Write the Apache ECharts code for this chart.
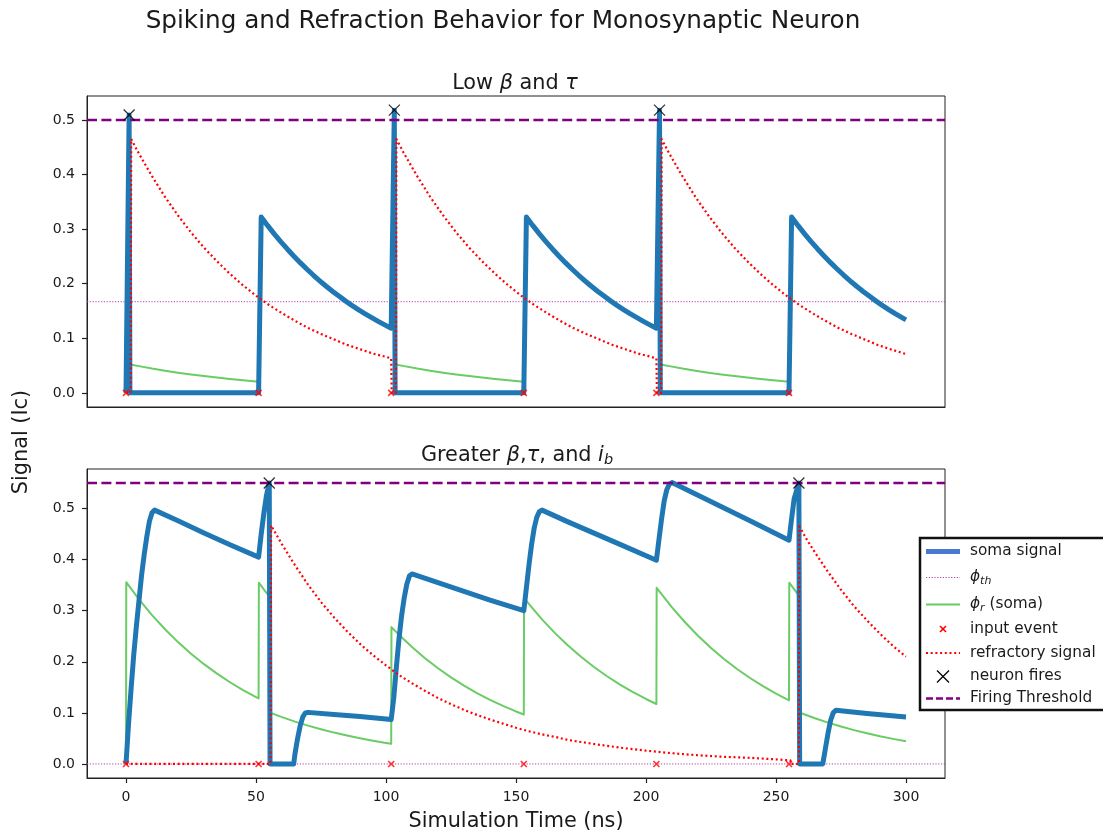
<!DOCTYPE html>
<html>
<head>
<meta charset="utf-8">
<script src="https://cdn.jsdelivr.net/npm/echarts@6/dist/echarts.min.js"></script>
<style>
  html, body { margin: 0; padding: 0; background: #ffffff; }
  #chart { width: 1103px; height: 836px; }
</style>
</head>
<body>
<div id="chart"></div>
<script>
// ---- Shared axis ticks ----
const timeTicks = [0, 50, 100, 150, 200, 250, 300];
const signalTicks = [0, 0.1, 0.2, 0.3, 0.4, 0.5];

// ---- Input events (ns) ----
const inputTimes = [0, 51, 102, 153, 204, 255];

// ---- Panel 1: low beta and tau ----
const lowSoma = [
  [0, 0], [1.2, 0.509], [1.5, 0], [51, 0],
  [52, 0.322], [54.5, 0.3063], [57, 0.2914], [59.5, 0.2772], [62, 0.2637], [64.5, 0.2508], [67, 0.2386],
  [69.5, 0.2270], [72, 0.2159], [74.5, 0.2054], [77, 0.1953], [79.5, 0.1858], [82, 0.1768], [84.5, 0.1681],
  [87, 0.1599], [89.5, 0.1521], [92, 0.1447], [94.5, 0.1377], [97, 0.1310], [99.5, 0.1246], [102, 0.1185],
  [103.2, 0.518], [103.5, 0], [153, 0],
  [154, 0.322], [156.5, 0.3063], [159, 0.2914], [161.5, 0.2772], [164, 0.2637], [166.5, 0.2508], [169, 0.2386],
  [171.5, 0.2270], [174, 0.2159], [176.5, 0.2054], [179, 0.1953], [181.5, 0.1858], [184, 0.1768], [186.5, 0.1681],
  [189, 0.1599], [191.5, 0.1521], [194, 0.1447], [196.5, 0.1377], [199, 0.1310], [201.5, 0.1246], [204, 0.1185],
  [205.2, 0.518], [205.5, 0], [255, 0],
  [256, 0.322], [258.5, 0.3063], [261, 0.2914], [263.5, 0.2772], [266, 0.2637], [268.5, 0.2508], [271, 0.2386],
  [273.5, 0.2270], [276, 0.2159], [278.5, 0.2054], [281, 0.1953], [283.5, 0.1858], [286, 0.1768], [288.5, 0.1681],
  [291, 0.1599], [293.5, 0.1521], [296, 0.1447], [298.5, 0.1377], [300, 0.1336]
];
const lowPhiR1 = [[1.5, 0], [1.6, 0.052], [5, 0.049], [10, 0.0445], [15, 0.0406], [20, 0.0370], [25, 0.0337],
  [30, 0.0307], [35, 0.0280], [40, 0.0255], [45, 0.0232], [51, 0.0205], [51.1, 0]];
const lowPhiR2 = [[103.5, 0], [103.6, 0.052], [107, 0.049], [112, 0.0445], [117, 0.0406], [122, 0.0370], [127, 0.0337],
  [132, 0.0307], [137, 0.0280], [142, 0.0255], [147, 0.0232], [153, 0.0205], [153.1, 0]];
const lowPhiR3 = [[205.5, 0], [205.6, 0.052], [209, 0.049], [214, 0.0445], [219, 0.0406], [224, 0.0370], [229, 0.0337],
  [234, 0.0307], [239, 0.0280], [244, 0.0255], [249, 0.0232], [255, 0.0205], [255.1, 0]];
const lowRefractory = [
  [0, 0], [1.8, 0], [2, 0.465], [5, 0.438], [10, 0.397], [15, 0.359], [20, 0.325], [25, 0.294], [30, 0.266],
  [35, 0.241], [40, 0.218], [45, 0.197], [50, 0.178], [55, 0.161], [60, 0.146], [65, 0.132], [70, 0.119],
  [75, 0.108], [80, 0.098], [85, 0.088], [90, 0.080], [95, 0.072], [100, 0.066], [102, 0.063],
  [102.2, 0], [103.8, 0], [104, 0.465], [107, 0.438], [112, 0.397], [117, 0.359], [122, 0.325], [127, 0.294],
  [132, 0.266], [137, 0.241], [142, 0.218], [147, 0.197], [152, 0.178], [157, 0.161], [162, 0.146], [167, 0.132],
  [172, 0.119], [177, 0.108], [182, 0.098], [187, 0.088], [192, 0.080], [197, 0.072], [202, 0.066], [204, 0.063],
  [204.2, 0], [205.8, 0], [206, 0.465], [209, 0.438], [214, 0.397], [219, 0.359], [224, 0.325], [229, 0.294],
  [234, 0.266], [239, 0.241], [244, 0.218], [249, 0.197], [254, 0.178], [259, 0.161], [264, 0.146], [269, 0.132],
  [274, 0.119], [279, 0.108], [284, 0.098], [289, 0.088], [294, 0.080], [300, 0.071]
];
const lowFires = [[1.2, 0.509], [103.2, 0.518], [205.2, 0.518]];
const lowPhiTh = 0.167;
const lowThreshold = 0.5;

// ---- Panel 2: greater beta, tau and i_b ----
const highSoma = [
  [0, 0], [1, 0.08], [2, 0.15], [3, 0.215], [4, 0.27], [5, 0.32], [6, 0.37], [7, 0.41], [8, 0.445],
  [9, 0.475], [10, 0.492], [11, 0.497], [20, 0.476], [30, 0.452], [40, 0.429], [51, 0.405],
  [52, 0.45], [53, 0.49], [54, 0.525], [55.1, 0.55], [55.4, 0], [64.5, 0], [65, 0.02], [66, 0.05],
  [67, 0.075], [68, 0.092], [69, 0.1], [70, 0.101], [80, 0.097], [90, 0.093], [102, 0.087],
  [103, 0.13], [104, 0.19], [105, 0.245], [106, 0.29], [107, 0.325], [108, 0.352], [109, 0.368], [110, 0.372],
  [120, 0.355], [130, 0.338], [140, 0.321], [153, 0.30],
  [154, 0.345], [155, 0.39], [156, 0.43], [157, 0.462], [158, 0.483], [159, 0.494], [160, 0.497],
  [170, 0.474], [180, 0.452], [190, 0.43], [204, 0.399],
  [205, 0.44], [206, 0.48], [207, 0.515], [208, 0.537], [209, 0.548], [210, 0.551],
  [220, 0.526], [230, 0.501], [240, 0.476], [255, 0.438],
  [256, 0.48], [257, 0.52], [258.8, 0.55], [259.1, 0], [268, 0], [269, 0.03], [270, 0.06], [271, 0.085],
  [272, 0.1], [273, 0.105], [285, 0.099], [300, 0.092]
];
const highPhiR = [
  [0, 0], [0.1, 0.356], [5, 0.3221], [10, 0.2915], [15, 0.2637], [20, 0.2386], [25, 0.2159], [30, 0.1954],
  [35, 0.1768], [40, 0.1600], [45, 0.1447], [50, 0.1310], [51, 0.1284],
  [51.1, 0.355], [53, 0.3418], [55, 0.3286], [55.5, 0.3255],
  [55.6, 0.1], [60, 0.0916], [65, 0.0829], [70, 0.0750], [75, 0.0679], [80, 0.0614], [85, 0.0556],
  [90, 0.0503], [95, 0.0455], [100, 0.0412], [102, 0.0396],
  [102.1, 0.268], [105, 0.2529], [110, 0.2288], [115, 0.2070], [120, 0.1873], [125, 0.1695], [130, 0.1533],
  [135, 0.1387], [140, 0.1255], [145, 0.1136], [150, 0.1028], [153, 0.0968],
  [153.1, 0.325], [155, 0.3129], [160, 0.2832], [165, 0.2562], [170, 0.2318], [175, 0.2098], [180, 0.1898],
  [185, 0.1717], [190, 0.1554], [195, 0.1406], [200, 0.1272], [204, 0.1174],
  [204.1, 0.345], [205, 0.3389], [210, 0.3066], [215, 0.2775], [220, 0.2510], [225, 0.2271], [230, 0.2055],
  [235, 0.1860], [240, 0.1683], [245, 0.1523], [250, 0.1378], [255, 0.1247],
  [255.1, 0.355], [258.6, 0.331],
  [258.9, 0.101], [260, 0.0988], [265, 0.0894], [270, 0.0809], [275, 0.0732], [280, 0.0663], [285, 0.0600],
  [290, 0.0542], [295, 0.0491], [300, 0.0444]
];
const highRefractory = [
  [0, 0], [55.6, 0], [55.8, 0.467], [60, 0.430], [65, 0.389], [70, 0.351], [75, 0.317], [80, 0.287],
  [85, 0.260], [90, 0.235], [95, 0.213], [100, 0.193], [105, 0.174], [110, 0.158], [115, 0.143],
  [120, 0.129], [125, 0.117], [130, 0.106], [135, 0.096], [140, 0.087], [145, 0.079], [150, 0.071],
  [155, 0.064], [160, 0.058], [165, 0.053], [170, 0.047], [175, 0.043], [180, 0.039], [190, 0.032],
  [200, 0.026], [210, 0.021], [220, 0.017], [230, 0.014], [240, 0.012], [250, 0.009], [255.5, 0.007],
  [255.7, 0], [258.8, 0], [259, 0.465], [262, 0.438], [265, 0.414], [270, 0.376], [275, 0.341],
  [280, 0.309], [285, 0.281], [290, 0.255], [295, 0.231], [300, 0.21]
];
const highFires = [[55.1, 0.55], [258.8, 0.55]];
const highPhiTh = 0;
const highThreshold = 0.55;

// ---- Styling ----
const FONT = 'DejaVu Sans';
const TEXT = '#1a1a1a';
const SPINE = '#222222';
const SOMA = '#1f77b4';
const SOMA_LEGEND = '#4878d0';
const GREEN = '#6acc64';
const RED = '#ff0000';
const PURPLE = '#800080';
const PHI_TH = '#b040b0';
const X_PATH = 'path://M0,0L10,10M10,0L0,10';
const X_MIN = -15, X_MAX = 315;

function xAxisFor(gridIndex, showLabels) {
  return {
    type: 'value', gridIndex, min: X_MIN, max: X_MAX,
    axisLine: { show: true, onZero: false, lineStyle: { color: SPINE, width: 1 } },
    splitLine: { show: false },
    axisTick: { show: showLabels, inside: false, length: 5, lineStyle: { color: SPINE, width: 1.2 }, customValues: timeTicks },
    axisLabel: {
      show: showLabels, customValues: timeTicks, margin: 12,
      fontFamily: FONT, fontSize: 14, color: TEXT, formatter: v => String(Math.round(v))
    }
  };
}
function yAxisFor(gridIndex, min, max) {
  return {
    type: 'value', gridIndex, min, max,
    axisLine: { show: true, onZero: false, lineStyle: { color: SPINE, width: 1 } },
    splitLine: { show: false },
    axisTick: { show: true, inside: false, length: 5, lineStyle: { color: SPINE, width: 1.2 }, customValues: signalTicks },
    axisLabel: {
      customValues: signalTicks, margin: 12,
      fontFamily: FONT, fontSize: 14, color: TEXT, formatter: v => v.toFixed(1)
    }
  };
}

function lineSeries(name, data, axis, style, z) {
  return {
    name, type: 'line', data, xAxisIndex: axis, yAxisIndex: axis,
    showSymbol: false, symbol: 'none', z, silent: true, animation: false,
    lineStyle: Object.assign({ join: 'round' }, style)
  };
}
function hline(name, value, axis, style, z) {
  return lineSeries(name, [[X_MIN, value], [X_MAX, value]], axis, style, z);
}
function markerSeries(name, data, axis, size, color, width, z) {
  return {
    name, type: 'scatter', data, xAxisIndex: axis, yAxisIndex: axis,
    symbol: X_PATH, symbolSize: size, z, silent: true, animation: false,
    itemStyle: { color: 'transparent', borderColor: color, borderWidth: width }
  };
}

const somaStyle = { color: SOMA, width: 5 };
const phiThStyle = { color: PHI_TH, width: 1, type: [1.2, 1.6] };
const greenStyle = { color: GREEN, width: 2 };
const refrStyle = { color: RED, width: 2.2, type: [2, 2.7] };
const threshStyle = { color: PURPLE, width: 2.5, type: [10, 4.4] };

const series = [];
[
  { axis: 0, soma: lowSoma, phiR: [lowPhiR1, lowPhiR2, lowPhiR3], refr: lowRefractory, fires: lowFires, th: lowPhiTh, thr: lowThreshold },
  { axis: 1, soma: highSoma, phiR: [highPhiR], refr: highRefractory, fires: highFires, th: highPhiTh, thr: highThreshold }
].forEach(p => {
  series.push(lineSeries('soma signal', p.soma, p.axis, somaStyle, 3));
  series.push(hline('ϕth', p.th, p.axis, phiThStyle, 2));
  p.phiR.forEach(seg => series.push(lineSeries('ϕr (soma)', seg, p.axis, greenStyle, 2)));
  series.push(markerSeries('input event', inputTimes.map(t => [t, 0]), p.axis, 6, RED, 1.6, 6));
  series.push(lineSeries('refractory signal', p.refr, p.axis, refrStyle, 4));
  series.push(markerSeries('neuron fires', p.fires, p.axis, 11, '#000000', 1.3, 7));
  series.push(hline('Firing Threshold', p.thr, p.axis, threshStyle, 5));
});

// ---- Legend (drawn as graphic elements) ----
const legendX = 920, legendY = 538;
const handleX1 = 926, handleX2 = 960, textX = 970;
const legendRows = [551.5, 577.5, 604.5, 629, 653, 676.5, 698.5];
const LEGEND_FS = 15.3;
const legendText = {
  fontFamily: FONT, fontSize: LEGEND_FS, fill: TEXT, verticalAlign: 'middle', align: 'left'
};
const legendRich = {
  m: { fontFamily: FONT, fontSize: LEGEND_FS, fontStyle: 'italic', fill: TEXT },
  s: { fontFamily: FONT, fontSize: 11, fontStyle: 'italic', fill: TEXT, padding: [7, 0, 0, 0] },
  t: { fontFamily: FONT, fontSize: LEGEND_FS, fill: TEXT }
};
function hLine(y, stroke, lineWidth, dash) {
  return { type: 'line', shape: { x1: handleX1, y1: y, x2: handleX2, y2: y },
    style: { stroke, lineWidth, lineDash: dash || null }, z: 101 };
}
function crossMark(cx, cy, half, stroke, lineWidth) {
  return [
    { type: 'line', shape: { x1: cx - half, y1: cy - half, x2: cx + half, y2: cy + half }, style: { stroke, lineWidth }, z: 101 },
    { type: 'line', shape: { x1: cx - half, y1: cy + half, x2: cx + half, y2: cy - half }, style: { stroke, lineWidth }, z: 101 }
  ];
}
function legendLabel(y, text, rich) {
  return { type: 'text', x: textX, y, z: 101,
    style: Object.assign({ text, rich: rich || undefined }, legendText) };
}
const cx = (handleX1 + handleX2) / 2;
const legendElements = [
  { type: 'rect', shape: { x: legendX, y: legendY, width: 200, height: 172 },
    style: { fill: '#ffffff', stroke: '#111111', lineWidth: 2.5 }, z: 100 },
  hLine(legendRows[0], SOMA_LEGEND, 5),
  legendLabel(legendRows[0], 'soma signal'),
  hLine(legendRows[1], PHI_TH, 1, [1.2, 1.6]),
  legendLabel(legendRows[1], '{m|ϕ}{s|th}', legendRich),
  hLine(legendRows[2], GREEN, 2),
  legendLabel(legendRows[2], '{m|ϕ}{s|r}{t| (soma)}', legendRich),
  ...crossMark(cx, legendRows[3], 3, RED, 1.6),
  legendLabel(legendRows[3], 'input event'),
  hLine(legendRows[4], RED, 2.2, [2, 2.7]),
  legendLabel(legendRows[4], 'refractory signal'),
  ...crossMark(cx, legendRows[5], 6, '#000000', 1.3),
  legendLabel(legendRows[5], 'neuron fires'),
  hLine(legendRows[6], PURPLE, 2.5, [7, 3]),
  legendLabel(legendRows[6], 'Firing Threshold')
];

const SUB_FS = 20.8;
const titleRich = {
  m: { fontFamily: FONT, fontSize: SUB_FS, fontStyle: 'italic', color: TEXT },
  s: { fontFamily: FONT, fontSize: 14.5, fontStyle: 'italic', color: TEXT, padding: [10, 0, 0, 0] }
};

const option = {
  backgroundColor: '#ffffff',
  animation: false,
  title: [
    { text: 'Spiking and Refraction Behavior for Monosynaptic Neuron', left: 498, top: 4, textAlign: 'center',
      textStyle: { fontFamily: FONT, fontSize: 24.7, fontWeight: 'normal', color: TEXT } },
    { text: 'Low {m|β} and {m|τ}', left: 510, top: 68, textAlign: 'center',
      textStyle: { fontFamily: FONT, fontSize: SUB_FS, fontWeight: 'normal', color: TEXT, rich: titleRich } },
    { text: 'Greater {m|β},{m|τ}, and {m|i}{s|b}', left: 512, top: 438, textAlign: 'center',
      textStyle: { fontFamily: FONT, fontSize: SUB_FS, fontWeight: 'normal', color: TEXT, rich: titleRich } }
  ],
  grid: [
    { left: 87, top: 96, width: 858, height: 311, show: true, borderColor: SPINE, borderWidth: 1,
      backgroundColor: 'transparent', outerBoundsMode: 'none' },
    { left: 87, top: 469, width: 858, height: 309, show: true, borderColor: SPINE, borderWidth: 1,
      backgroundColor: 'transparent', outerBoundsMode: 'none' }
  ],
  xAxis: [xAxisFor(0, false), xAxisFor(1, true)],
  yAxis: [yAxisFor(0, -0.0259, 0.5439), yAxisFor(1, -0.0275, 0.5775)],
  series,
  graphic: [
    { type: 'text', x: 22, y: 442, rotation: Math.PI / 2, z: 50,
      style: { text: 'Signal (Ic)', fontFamily: FONT, fontSize: 20.8, fill: TEXT, align: 'center', verticalAlign: 'middle' } },
    { type: 'text', x: 516, y: 822, z: 50,
      style: { text: 'Simulation Time (ns)', fontFamily: FONT, fontSize: 20.8, fill: TEXT, align: 'center', verticalAlign: 'middle' } },
    ...legendElements
  ]
};

const chart = echarts.init(document.getElementById('chart'), null, { renderer: 'canvas' });
chart.setOption(option);
</script>
</body>
</html>
